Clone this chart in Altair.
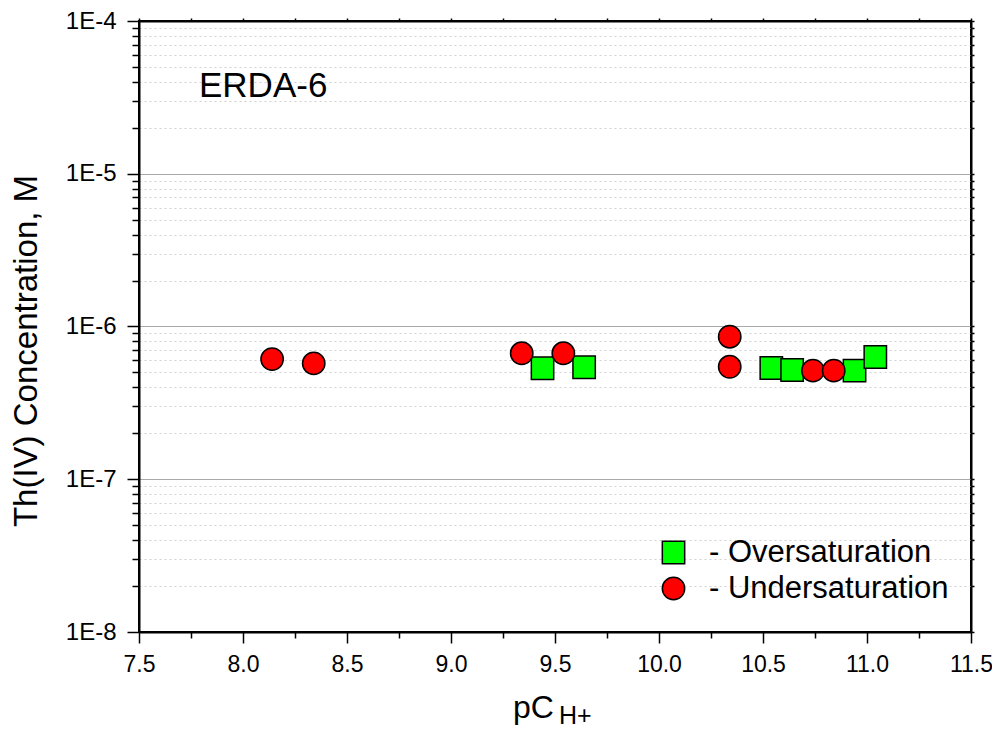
import altair as alt
import pandas as pd

# ---- data ----
over_x = [9.44, 9.64, 10.54, 10.64, 10.94, 11.04]
over_y = [5.33e-7, 5.41e-7, 5.35e-7, 5.19e-7, 5.14e-7, 6.31e-7]
under_x = [8.14, 8.34, 9.34, 9.54, 10.34, 10.34, 10.74, 10.84]
under_y = [6.12e-7, 5.74e-7, 6.68e-7, 6.68e-7, 8.57e-7, 5.45e-7, 5.14e-7, 5.14e-7]
series_names = ["Oversaturation", "Undersaturation"]
series_shapes = ["square", "circle"]
series_fills = ["#00ff00", "#ff0000"]

x_ticks = [7.5 + 0.25 * i for i in range(17)]
y_ticks = sorted({float(f"{m}e{k}") for k in range(-8, -4) for m in range(1, 10)} | {1e-4})

annotation = ["ERDA-6"]
y_title = ["Th(IV) Concentration, M"]
x_title_main = ["pC"]
x_title_sub = ["H+"]

FONT = "Liberation Sans"
W, H = 832, 611

df = pd.DataFrame({
    "pch": over_x + under_x,
    "conc": over_y + under_y,
    "series": [series_names[0]] * len(over_x) + [series_names[1]] * len(under_x),
})

MAJOR_Y = "abs(log(datum.value)/LN10 - round(log(datum.value)/LN10)) < 1e-6"
MAJOR_X = "abs(datum.value*2 - round(datum.value*2)) < 1e-6"

xscale = alt.Scale(domain=[7.5, 11.5], nice=False, zero=False)
yscale = alt.Scale(type="log", domain=[1e-8, 1e-4], nice=False)

legend = alt.Legend(
    orient="none", legendX=519, legendY=516, title=None,
    labelFont=FONT, labelFontSize=31, labelColor="black", labelLimit=500,
    labelExpr="'- ' + datum.label", labelOffset=20,
    symbolSize=500, symbolStrokeColor="black", symbolStrokeWidth=1.5,
    symbolOpacity=1, rowPadding=4, padding=0,
)

points = alt.Chart(df).mark_point(
    filled=True, strokeWidth=1.5, opacity=1, size=500
).encode(
    x=alt.X("pch:Q", scale=xscale, title=None, axis=alt.Axis(
        values=x_ticks, labelExpr=f"{MAJOR_X} ? format(datum.value, '.1f') : ''",
        grid=False, labelFont=FONT, labelFontSize=23, labelColor="black",
        labelPadding=10, labelFlush=False, labelOverlap=False,
        tickColor="black", tickWidth=1.5,
        tickSize={"condition": {"test": MAJOR_X, "value": 11}, "value": 6},
        domainColor="black", domainWidth=2,
    )),
    y=alt.Y("conc:Q", scale=yscale, title=None, axis=alt.Axis(
        values=y_ticks,
        labelExpr=f"{MAJOR_Y} ? '1E' + round(log(datum.value)/LN10) : ''",
        grid=True,
        gridColor={"condition": {"test": MAJOR_Y, "value": "#a8a8a8"}, "value": "#d0d0d0"},
        gridDash={"condition": {"test": MAJOR_Y, "value": []}, "value": [2, 3]},
        gridWidth=1,
        labelFont=FONT, labelFontSize=24, labelColor="black",
        labelPadding=11, labelFlush=False, labelOverlap=False,
        tickColor="black", tickWidth=1.5,
        tickSize={"condition": {"test": MAJOR_Y, "value": 12}, "value": 7},
        domainColor="black", domainWidth=2,
    )),
    shape=alt.Shape("series:N", scale=alt.Scale(domain=series_names, range=series_shapes), legend=legend),
    fill=alt.Fill("series:N", scale=alt.Scale(domain=series_names, range=series_fills), legend=legend),
    stroke=alt.Stroke("series:N", scale=alt.Scale(domain=series_names, range=["black", "black"]), legend=legend),
)

mirror = alt.Chart(df).mark_point(opacity=0).encode(
    x=alt.X("pch:Q", scale=xscale, title=None, axis=alt.Axis(
        orient="top", values=x_ticks, labels=False, grid=False,
        tickColor="black", tickWidth=1.5, tickSize=3,
        domainColor="black", domainWidth=2)),
    y=alt.Y("conc:Q", scale=yscale, title=None, axis=alt.Axis(
        orient="right", values=y_ticks, labels=False, grid=False,
        tickColor="black", tickWidth=1.5, tickSize=3,
        domainColor="black", domainWidth=2)),
)

def label(txt, x, y, size, **kw):
    return alt.Chart(pd.DataFrame({"t": txt})).mark_text(
        font=FONT, fontSize=size, color="black", baseline="alphabetic", **kw
    ).encode(x=alt.value(x), y=alt.value(y), text="t:N")

erda = label(annotation, 60, 76, 35, align="left")
ytitle = label(y_title, -102, 330, 33, align="center", angle=270)
xtitle1 = label(x_title_main, 374, 697, 32, align="left")
xtitle2 = label(x_title_sub, 420, 703, 25, align="left")

chart = alt.layer(mirror, points, erda, ytitle, xtitle1, xtitle2).resolve_axis(
    x="independent", y="independent"
).properties(
    width=W, height=H,
    autosize=alt.AutoSizeParams(type="none"),
    padding={"left": 131, "top": 13, "right": 21, "bottom": 100},
    background="white",
).configure_view(stroke="black", strokeWidth=2)

chart.save("out.html", embed_options={"renderer": "svg", "actions": False})
